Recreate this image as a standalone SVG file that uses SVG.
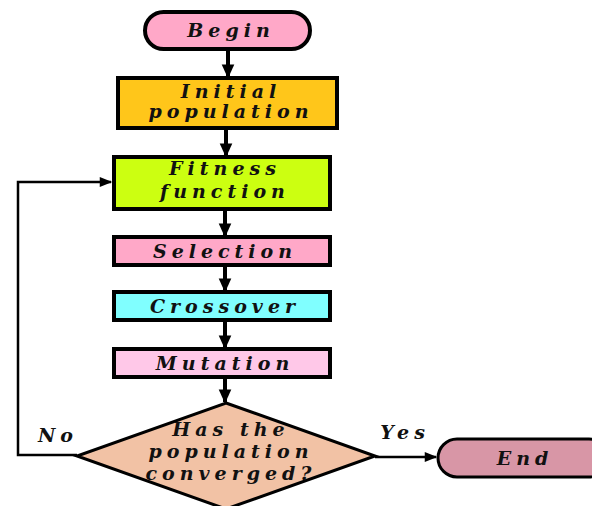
<svg xmlns="http://www.w3.org/2000/svg" width="592" height="506" viewBox="0 0 592 506">
<style>
.n{stroke:#000;stroke-width:4}
.t{font-family:"DejaVu Serif",serif;font-style:italic;font-weight:bold;font-size:19px;letter-spacing:5px;text-anchor:middle;fill:#111}
.c{fill:none;stroke:#000;stroke-width:4}
.c2{fill:none;stroke:#000;stroke-width:2.5}
</style>
<defs>
<marker id="ah" viewBox="0 0 10 10" refX="9" refY="5" markerWidth="3.5" markerHeight="3.5" orient="auto" markerUnits="strokeWidth"><path d="M0,0.5 L10,5 L0,9.5 z" fill="#000"/></marker>
<marker id="ah2" viewBox="0 0 10 10" refX="9" refY="5" markerWidth="6" markerHeight="5" orient="auto" markerUnits="strokeWidth"><path d="M0,1 L10,5 L0,9 z" fill="#000"/></marker>
</defs>
<g id="connectors">
<line class="c" x1="228" y1="49" x2="228" y2="77" marker-end="url(#ah)"/>
<line class="c" x1="226" y1="128" x2="226" y2="156" marker-end="url(#ah)"/>
<line class="c" x1="225" y1="209" x2="225" y2="236" marker-end="url(#ah)"/>
<line class="c" x1="225" y1="265" x2="225" y2="291" marker-end="url(#ah)"/>
<line class="c" x1="225" y1="320" x2="225" y2="348" marker-end="url(#ah)"/>
<line class="c" x1="225" y1="377" x2="225" y2="402" marker-end="url(#ah)"/>
<polyline class="c2" points="77,455 18,455 18,182 111,182" marker-end="url(#ah2)"/>
<line class="c2" x1="375" y1="457" x2="436" y2="457" marker-end="url(#ah2)"/>
</g>
<g id="begin">
<rect class="n" x="145" y="12" width="165" height="37" rx="18.5" fill="#FFA8C8"/>
<text class="t" x="231" y="37">Begin</text>
</g>
<g id="initial">
<rect class="n" x="118" y="78" width="219" height="50" fill="#FFC61A"/>
<text class="t" x="231" y="98">Initial</text>
<text class="t" x="231" y="118">population</text>
</g>
<g id="fitness">
<rect class="n" x="114" y="157" width="216" height="52" fill="#CCFF11"/>
<text class="t" x="225" y="175">Fitness</text>
<text class="t" x="225" y="198">function</text>
</g>
<g id="selection">
<rect class="n" x="114" y="237" width="216" height="28" fill="#FFA8C8"/>
<text class="t" x="225" y="258">Selection</text>
</g>
<g id="crossover">
<rect class="n" x="114" y="292" width="216" height="28" fill="#80FFFF"/>
<text class="t" x="225" y="313">Crossover</text>
</g>
<g id="mutation">
<rect class="n" x="114" y="349" width="216" height="28" fill="#FFC8E8"/>
<text class="t" x="225" y="370">Mutation</text>
</g>
<g id="decision">
<polygon points="226,403 375,456 226,509 77,456" fill="#F2C2A5" stroke="#000" stroke-width="3"/>
<text class="t" x="231" y="436">Has the</text>
<text class="t" x="231" y="458">population</text>
<text class="t" x="231" y="480">converged?</text>
</g>
<g id="end">
<rect x="438" y="439" width="170" height="38" rx="19" fill="#D896A6" stroke="#000" stroke-width="3"/>
<text class="t" x="525" y="465">End</text>
</g>
<g id="labels">
<text class="t" x="58" y="442">No</text>
<text class="t" x="405" y="439">Yes</text>
</g>
</svg>
